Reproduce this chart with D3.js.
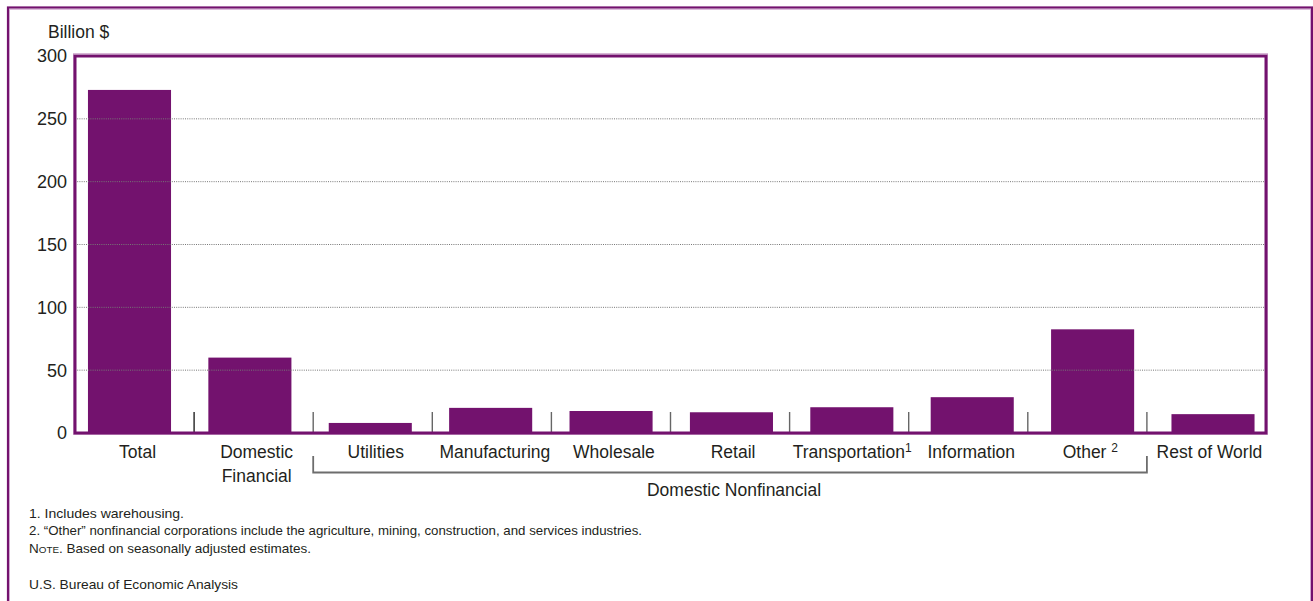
<!DOCTYPE html>
<html>
<head>
<meta charset="utf-8">
<script src="https://cdn.jsdelivr.net/npm/d3@7"></script>
<style>
  body { margin: 0; background: #fff; }
  svg { display: block; }
  text { font-family: "Liberation Sans", Arial, Helvetica, sans-serif; fill: #231f20; }
  .note { font-family: "Liberation Sans Narrow", "Liberation Sans", Arial, sans-serif; }
</style>
</head>
<body>
<svg id="chart" width="1313" height="601"></svg>
<script>
// Corporate profits by industry, billions of dollars
const categories = ["Total", "Domestic Financial", "Utilities", "Manufacturing", "Wholesale",
                    "Retail", "Transportation", "Information", "Other", "Rest of World"];
const labelLines = [["Total"], ["Domestic", "Financial"], ["Utilities"], ["Manufacturing"], ["Wholesale"],
                    ["Retail"], ["Transportation"], ["Information"], ["Other "], ["Rest of World"]];
const superscripts = ["", "", "", "", "", "", "1", "", "2", ""];
const profits = [273, 60, 8, 20, 17.5, 16.5, 20.5, 28.5, 82.5, 15];
const yTicks = [0, 50, 100, 150, 200, 250, 300];
const yTitle = "Billion $";
const groupLabel = "Domestic Nonfinancial";
const groupMembers = ["Utilities", "Other"];
const footnotes = [
  { parts: [["1. Includes warehousing.", null]], width: 155 },
  { parts: [["2. \u201COther\u201D nonfinancial corporations include the agriculture, mining, construction, and services industries.", null]], width: 613 },
  { parts: [["N", null], ["OTE", "small"], [". Based on seasonally adjusted estimates.", null]], width: 282 },
  { parts: [["U.S. Bureau of Economic Analysis", null]], width: 209 }
];

const purple = "#73126e";
const svg = d3.select("#chart");

const plot = { left: 75, right: 1266, top: 56, bottom: 433 };

// y scale
const y = d3.scaleLinear().domain([0, 300]).range([plot.bottom, plot.top]);

// slots for labels and separators span the plot frame
const xSlot = d3.scaleBand().domain(categories).range([plot.left, plot.right]).padding(0);
// bars sit on a slightly wider band layout
const xBar = d3.scaleBand().domain(categories).range([69.3, 1273.2])
  .paddingInner(0.31).paddingOuter(0.155);
const labelX = d => xSlot(d) + xSlot.bandwidth() / 2 + 3;

// outer panel border
svg.append("rect").attr("x", 9.5).attr("y", 9.5).attr("width", 1301).attr("height", 700)
  .attr("fill", "none").attr("stroke", "#dcbcdb").attr("stroke-width", 1);
svg.append("rect").attr("x", 8).attr("y", 7.5).attr("width", 1304).attr("height", 700)
  .attr("fill", "none").attr("stroke", purple).attr("stroke-width", 2.2);

// y axis title
svg.append("text").attr("x", 48).attr("y", 38).attr("font-size", 17.5).text(yTitle);

// y tick labels
svg.append("g").selectAll("text").data(yTicks).join("text")
  .attr("x", 67).attr("y", d => y(d)).attr("dy", "0.36em")
  .attr("text-anchor", "end").attr("font-size", 18).text(d => d);

// bars
svg.append("g").selectAll("rect").data(categories).join("rect")
  .attr("x", d => xBar(d))
  .attr("width", xBar.bandwidth())
  .attr("y", (d, i) => y(profits[i]))
  .attr("height", (d, i) => y(0) - y(profits[i]) + 1.5)
  .attr("fill", purple);

// dotted gridlines
svg.append("g").selectAll("line").data(yTicks.filter(t => t > 0 && t < 300)).join("line")
  .attr("x1", plot.left).attr("x2", plot.right)
  .attr("y1", d => y(d)).attr("y2", d => y(d))
  .attr("stroke", "#777").attr("stroke-width", 1).attr("stroke-dasharray", "1,1.2");

// separators between categories
svg.append("g").selectAll("line").data(categories.slice(1)).join("line")
  .attr("x1", d => xSlot(d)).attr("x2", d => xSlot(d))
  .attr("y1", plot.bottom - 21).attr("y2", plot.bottom)
  .attr("stroke", (d, i) => i === 0 ? "#222" : "#666").attr("stroke-width", 1.4);

// plot frame
svg.append("rect").attr("x", plot.left - 1.5).attr("y", plot.top - 2.5)
  .attr("width", plot.right - plot.left + 3).attr("height", plot.bottom - plot.top + 4)
  .attr("fill", "none").attr("stroke", "#d8b6d6").attr("stroke-width", 1);
svg.append("rect").attr("x", plot.left).attr("y", plot.top)
  .attr("width", plot.right - plot.left).attr("height", plot.bottom - plot.top)
  .attr("fill", "none").attr("stroke", purple).attr("stroke-width", 3);

// category labels
const labels = svg.append("g").selectAll("text").data(categories).join("text")
  .attr("text-anchor", "middle").attr("font-size", 17.5)
  .attr("x", labelX)
  .attr("y", 458);
labels.each(function (d, i) {
  const t = d3.select(this);
  labelLines[i].forEach((line, j) => {
    t.append("tspan").attr("x", labelX(d))
      .attr("dy", j === 0 ? 0 : 24).text(line);
  });
  if (superscripts[i]) {
    t.append("tspan").attr("font-size", 12).attr("dy", -6).text(superscripts[i]);
  }
});

// bracket grouping the nonfinancial industries
const gx0 = xSlot(groupMembers[0]);
const gx1 = xSlot(groupMembers[1]) + xSlot.bandwidth();
svg.append("path")
  .attr("d", `M${gx0},456 V472.5 H${gx1} V456`)
  .attr("fill", "none").attr("stroke", "#6d6d6d").attr("stroke-width", 1.8);
svg.append("text").attr("x", (gx0 + gx1) / 2 + 4).attr("y", 496)
  .attr("text-anchor", "middle").attr("font-size", 17.5).text(groupLabel);

// footnotes and source
const noteY = [517.5, 535, 552.5, 588.5];
footnotes.forEach((f, i) => {
  const t = svg.append("text").attr("class", "note").attr("x", 29).attr("y", noteY[i])
    .attr("font-size", 13).attr("textLength", f.width).attr("lengthAdjust", "spacingAndGlyphs");
  f.parts.forEach(([s, kind]) => {
    t.append("tspan").attr("font-size", kind === "small" ? 9.5 : 13).text(s);
  });
});
</script>
</body>
</html>
